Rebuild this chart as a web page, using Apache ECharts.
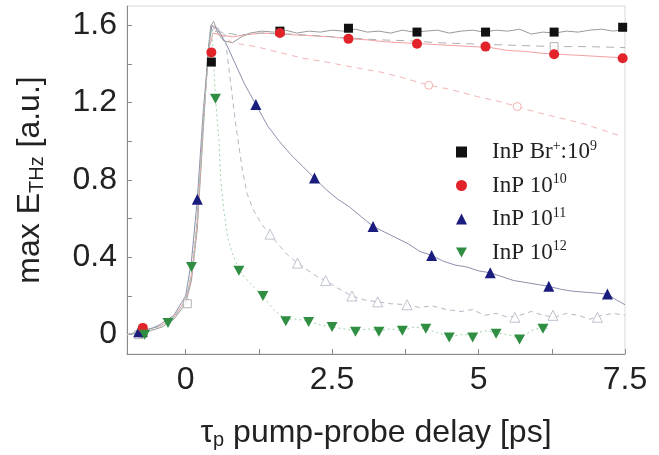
<!DOCTYPE html>
<html><head><meta charset="utf-8">
<script src="https://cdn.jsdelivr.net/npm/echarts@6/dist/echarts.min.js"></script>
<style>html,body{margin:0;padding:0;background:#fff}#c{width:659px;height:455px}</style>
</head><body><div id="c"></div>
<script>
// ---- data ----
const xTickValues = [0, 1.25, 2.5, 3.75, 5, 6.25, 7.5];
const xLabelValues = [0, 2.5, 5, 7.5];
const yTickValues = [0, 0.2, 0.4, 0.6, 0.8, 1.0, 1.2, 1.4, 1.6];
const yLabelValues = [0, 0.4, 0.8, 1.2, 1.6];

const seriesNames = ['InP Br+:10^9', 'InP 10^10', 'InP 10^11', 'InP 10^12'];

// filled markers
const markBr9 = [[-0.73,0.01],[0.44,1.41],[1.61,1.57],[2.78,1.585],[3.95,1.565],[5.12,1.565],[6.29,1.565],[7.46,1.59]];
const mark10 = [[-0.73,0.035],[0.44,1.46],[1.61,1.56],[2.78,1.53],[3.95,1.505],[5.12,1.49],[6.29,1.45],[7.46,1.43]];
const mark11 = [[-0.8,0.015],[0.2,0.70],[1.2,1.19],[2.2,0.81],[3.2,0.56],[4.2,0.41],[5.2,0.32],[6.2,0.25],[7.2,0.21]];
const mark12 = [[-0.7,0.0],[-0.3,0.06],[0.1,0.35],[0.51,1.22],[0.91,0.33],[1.32,0.20],[1.71,0.07],[2.1,0.065],[2.5,0.04],[2.9,0.015],[3.3,0.015],[3.7,0.02],[4.1,0.03],[4.5,-0.015],[4.9,-0.015],[5.3,0.005],[5.7,-0.025],[6.1,0.03]];

// hollow markers
const hollowSq = [[-0.8,0.0],[0.03,0.16],[6.29,1.49]];
const hollowCirc = [[4.15,1.29],[5.66,1.18]];
const hollowTri = [[1.44,0.52],[1.91,0.37],[2.39,0.28],[2.84,0.20],[3.28,0.17],[3.78,0.155],[5.62,0.09],[6.27,0.10],[7.03,0.09]];

// measured traces
const traceBr9 = [[-1,0],[-0.8,0.01],[-0.6,0.02],[-0.4,0.04],[-0.2,0.08],[0,0.16],[0.1,0.28],[0.2,0.55],[0.3,1.05],[0.38,1.45],[0.43,1.6],[0.48,1.62],[0.55,1.56],[0.65,1.52],[0.8,1.51],[0.95,1.54],[1.1,1.56],[1.3,1.57],[1.5,1.565],[1.7,1.575],[1.9,1.56],[2.1,1.57],[2.3,1.565],[2.5,1.575],[2.7,1.57],[2.9,1.58],[3.1,1.565],[3.3,1.57],[3.5,1.56],[3.7,1.575],[3.9,1.565],[4.1,1.57],[4.3,1.575],[4.5,1.56],[4.7,1.57],[4.9,1.575],[5.1,1.565],[5.3,1.575],[5.5,1.57],[5.7,1.58],[5.9,1.555],[6.1,1.565],[6.3,1.56],[6.5,1.57],[6.7,1.565],[6.9,1.575],[7.1,1.58],[7.3,1.57],[7.5,1.58]];
const trace10 = [[-1,0],[-0.7,0.02],[-0.4,0.05],[-0.2,0.09],[0,0.18],[0.1,0.3],[0.2,0.58],[0.3,1.1],[0.4,1.48],[0.47,1.56],[0.6,1.55],[0.8,1.54],[1.0,1.55],[1.3,1.56],[1.6,1.555],[1.9,1.55],[2.2,1.545],[2.5,1.54],[2.8,1.53],[3.1,1.525],[3.4,1.515],[3.7,1.51],[4.0,1.505],[4.3,1.5],[4.6,1.495],[4.9,1.49],[5.2,1.485],[5.5,1.47],[5.8,1.465],[6.1,1.455],[6.4,1.45],[6.7,1.445],[7.0,1.44],[7.3,1.435],[7.5,1.43]];
const trace10b = [[0.5,1.57],[0.9,1.55],[1.3,1.56],[1.8,1.555],[2.3,1.545],[2.8,1.535],[3.3,1.525],[3.8,1.52],[4.3,1.51],[4.8,1.505],[5.3,1.5],[5.8,1.495],[6.3,1.49],[6.8,1.49],[7.5,1.485]];
const traceDecay = [[0.45,1.6],[0.6,1.55],[0.8,1.51],[1.2,1.49],[1.6,1.46],[2.0,1.43],[2.4,1.41],[2.75,1.39],[3.1,1.37],[3.3,1.36],[3.7,1.33],[4.15,1.29],[4.5,1.27],[5.0,1.23],[5.3,1.21],[5.66,1.18],[6.0,1.15],[6.4,1.12],[6.8,1.09],[7.1,1.06],[7.4,1.03]];
const trace11 = [[-1,0],[-0.8,0.015],[-0.5,0.04],[-0.2,0.1],[0,0.2],[0.1,0.38],[0.2,0.7],[0.3,1.15],[0.4,1.5],[0.45,1.6],[0.55,1.58],[0.7,1.5],[0.85,1.4],[1.0,1.3],[1.2,1.19],[1.4,1.08],[1.6,1.0],[1.8,0.93],[2.0,0.87],[2.2,0.81],[2.4,0.75],[2.6,0.70],[2.8,0.66],[3.0,0.61],[3.2,0.56],[3.4,0.53],[3.6,0.50],[3.8,0.47],[4.0,0.43],[4.2,0.41],[4.4,0.38],[4.6,0.36],[4.8,0.35],[5.0,0.33],[5.2,0.32],[5.4,0.30],[5.6,0.28],[5.8,0.27],[6.0,0.26],[6.2,0.25],[6.4,0.235],[6.6,0.225],[6.8,0.22],[7.0,0.215],[7.2,0.21],[7.35,0.18],[7.5,0.155]];
const trace11b = [[-1,0],[-0.6,0.03],[-0.2,0.09],[0,0.16],[0.15,0.4],[0.3,1.1],[0.42,1.55],[0.5,1.6],[0.6,1.57],[0.67,1.55],[0.75,1.35],[0.85,1.1],[0.97,0.85],[1.05,0.73],[1.15,0.65],[1.3,0.57],[1.44,0.52],[1.6,0.46],[1.75,0.41],[1.91,0.37],[2.1,0.33],[2.25,0.30],[2.39,0.28],[2.6,0.24],[2.84,0.20],[3.05,0.18],[3.28,0.17],[3.5,0.16],[3.78,0.155],[4.0,0.14],[4.2,0.15],[4.45,0.13],[4.7,0.12],[4.9,0.13],[5.1,0.10],[5.3,0.11],[5.5,0.09],[5.7,0.10],[5.9,0.12],[6.1,0.10],[6.3,0.09],[6.5,0.11],[6.7,0.10],[6.9,0.08],[7.1,0.10],[7.3,0.11],[7.5,0.10]];
const trace12 = [[-1,0],[-0.7,0.01],[-0.3,0.06],[0,0.17],[0.1,0.33],[0.2,0.6],[0.3,1.1],[0.4,1.5],[0.45,1.58],[0.51,1.22],[0.57,1.0],[0.6,0.8],[0.65,0.65],[0.72,0.5],[0.8,0.42],[0.91,0.34],[1.0,0.3],[1.15,0.25],[1.32,0.2],[1.5,0.13],[1.71,0.08],[1.9,0.08],[2.1,0.07],[2.3,0.05],[2.5,0.04],[2.7,0.03],[2.9,0.02],[3.1,0.03],[3.3,0.02],[3.5,0.03],[3.7,0.02],[3.9,0.04],[4.1,0.03],[4.3,0.01],[4.5,-0.01],[4.7,0.0],[4.9,0.0],[5.1,0.02],[5.3,0.01],[5.5,0.0],[5.7,-0.02],[5.9,0.02],[6.1,0.04],[6.2,0.03]];

// ---- chart ----
const C_BLACK = '#111111', C_RED = '#e3232a', C_BLUE = '#1b1d7e', C_GREEN = '#2f8e42';
const SANS = 'Liberation Sans, Arial, sans-serif';
const SERIF = 'Liberation Serif, Times New Roman, serif';
const downTri = 'path://M0,0L10,0L5,9Z';

function traceSeries(data, color, type) {
  return { type: 'line', data: data, symbol: 'none', silent: true, z: 1,
    lineStyle: { color: color, width: 1, type: type } };
}
function markSeries(name, data, symbol, size, color) {
  return { name: name, type: 'scatter', data: data, symbol: symbol, symbolSize: size, z: 5,
    itemStyle: { color: color, opacity: 1 } };
}
function hollowSeries(data, symbol, size, color) {
  return { type: 'scatter', data: data, symbol: symbol, symbolSize: size, z: 3, silent: true,
    itemStyle: { color: '#ffffff', borderColor: color, borderWidth: 1 } };
}

const legendRich = {
  t: { fontFamily: SERIF, fontSize: 23, color: '#222' },
  s: { fontFamily: SERIF, fontSize: 14, color: '#222', padding: [0, 0, 12, 0] }
};
function legendLabel(name) {
  const m = name.match(/^(.*?)(\+)?(:?10)\^(\d+)$/);
  if (!m) return name;
  let out = '{t|' + m[1] + '}';
  if (m[2]) out += '{s|+}';
  out += '{t|' + m[3] + '}{s|' + m[4] + '}';
  return out;
}

const chart = echarts.init(document.getElementById('c'), null, { renderer: 'canvas' });
chart.setOption({
  animation: false,
  backgroundColor: '#ffffff',
  grid: { left: 127, right: 34, top: 6, bottom: 101, show: true, borderColor: '#d8d8d8', borderWidth: 1, containLabel: false },
  xAxis: {
    type: 'value', min: -1, max: 7.5,
    name: '{g|τ}{s|p}{g| pump-probe delay [ps]}', nameLocation: 'middle', nameGap: 62,
    nameTextStyle: { rich: {
      g: { fontFamily: SANS, fontSize: 32, color: '#222' },
      s: { fontFamily: SANS, fontSize: 20, color: '#222', padding: [14, 0, 0, 0] } } },
    axisLine: { onZero: false, lineStyle: { color: '#8a8a8a', width: 1 } },
    axisTick: { inside: true, length: 5, customValues: xTickValues, lineStyle: { color: '#8a8a8a' } },
    axisLabel: { customValues: xLabelValues, fontFamily: SANS, fontSize: 32, color: '#222', margin: 10,
      formatter: v => String(v) },
    splitLine: { show: false }
  },
  yAxis: {
    type: 'value', min: -0.1, max: 1.7,
    name: '{g|max E}{s|THz}{g| [a.u.]}', nameLocation: 'middle', nameRotate: 90, nameGap: 80,
    nameTextStyle: { rich: {
      g: { fontFamily: SANS, fontSize: 32, color: '#222' },
      s: { fontFamily: SANS, fontSize: 20, color: '#222', padding: [14, 0, 0, 0] } } },
    axisLine: { onZero: false, lineStyle: { color: '#8a8a8a', width: 1 } },
    axisTick: { inside: true, length: 5, customValues: yTickValues, lineStyle: { color: '#8a8a8a' } },
    axisLabel: { customValues: yLabelValues, fontFamily: SANS, fontSize: 32, color: '#222', margin: 10,
      formatter: v => (Math.abs(v) < 1e-9 ? '0' : v.toFixed(1)) },
    splitLine: { show: false }
  },
  legend: {
    data: seriesNames, orient: 'vertical', left: 451, top: 134, itemGap: 9,
    itemWidth: 11, itemHeight: 11,
    formatter: legendLabel,
    textStyle: { fontFamily: SERIF, fontSize: 23, color: '#222', padding: [0, 0, 0, 20], rich: legendRich }
  },
  series: [
    traceSeries(traceBr9, '#9a9a9a', 'solid'),
    traceSeries(trace10, '#f2a0a0', 'solid'),
    traceSeries(trace10b, '#b0b0b0', [8, 6]),
    traceSeries(traceDecay, '#f4b4b4', [6, 5]),
    traceSeries(trace11, '#8c90ac', 'solid'),
    traceSeries(trace11b, '#b4b8c8', [5, 4]),
    traceSeries(trace12, '#9fd2a6', [2, 3]),
    hollowSeries(hollowSq, 'rect', 8, '#a0a0a0'),
    hollowSeries(hollowCirc, 'circle', 8, '#f0a0a0'),
    hollowSeries(hollowTri, 'triangle', 10, '#b0b4c4'),
    markSeries(seriesNames[0], markBr9, 'rect', 9, C_BLACK),
    markSeries(seriesNames[2], mark11, 'triangle', 11, C_BLUE),
    markSeries(seriesNames[1], mark10, 'circle', 10, C_RED),
    markSeries(seriesNames[3], mark12, downTri, [11, 10], C_GREEN)
  ]
});
</script>
</body></html>
